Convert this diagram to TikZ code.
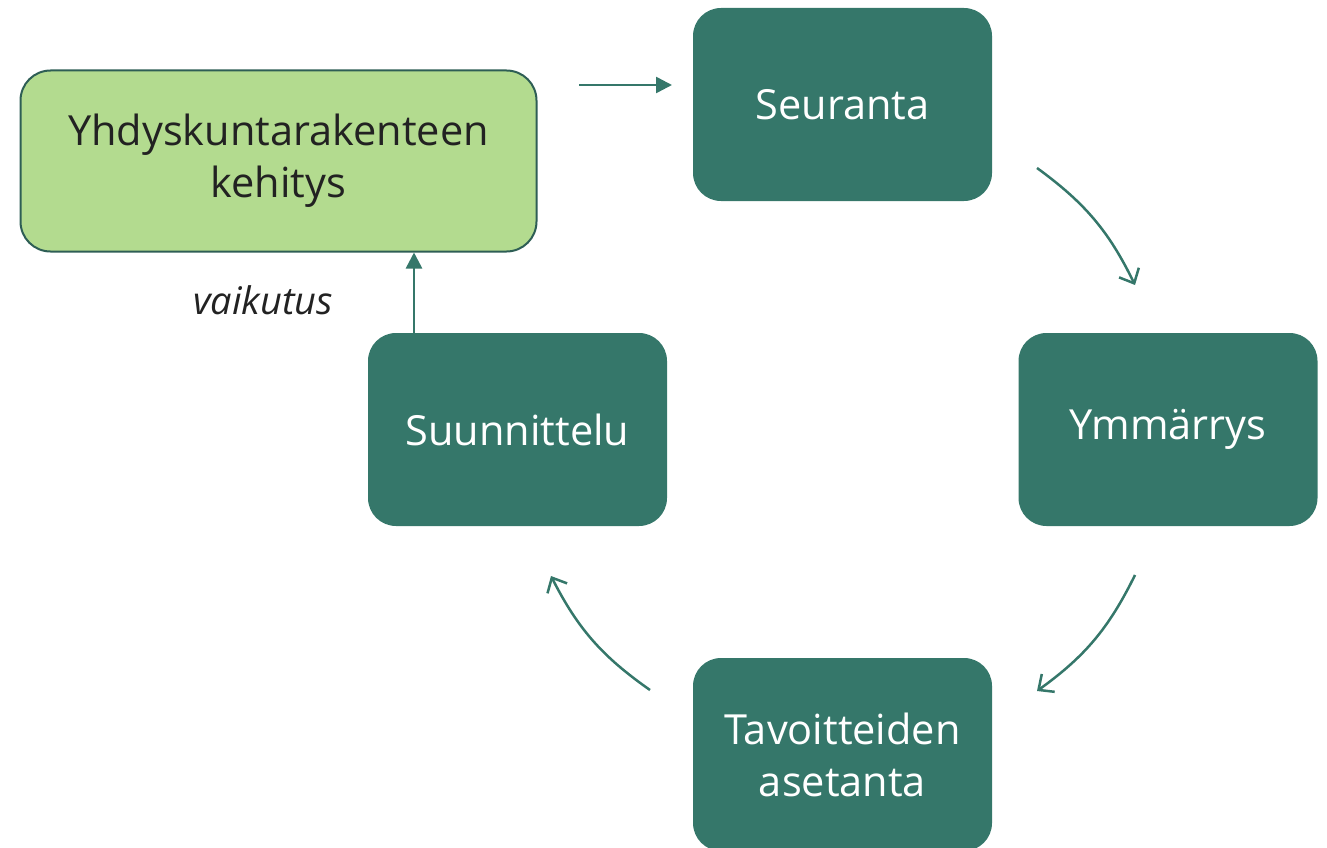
\documentclass[tikz,border=0pt]{standalone}
\usepackage{fontspec}
\setmainfont{Open Sans}
\usetikzlibrary{arrows.meta}
\definecolor{dkgreen}{HTML}{35776A}
\definecolor{ltgreen}{HTML}{B3DB8F}
\definecolor{ltborder}{HTML}{2E5E55}
\definecolor{txtdark}{HTML}{222222}
\tikzset{
  stagebox/.style={fill=dkgreen, draw=none, rounded corners=28pt, minimum width=299pt, minimum height=193pt, text=white, font=\fontsize{41.5}{52}\selectfont, align=center, inner sep=0pt},
  resultbox/.style={fill=ltgreen, draw=ltborder, line width=2pt, rounded corners=30pt, minimum width=516pt, minimum height=181pt, text=txtdark, font=\fontsize{41.5}{52}\selectfont, align=center, inner sep=0pt},
  flatarrow/.style={draw=dkgreen, line width=2.5pt, -{Triangle[length=16pt,width=16pt]}},
  curvearrow/.style={draw=dkgreen, line width=2.5pt, -{Straight Barb[length=12pt,width=22pt,line width=2.5pt]}}
}
\begin{document}
\begin{tikzpicture}[x=1pt,y=-1pt]
\useasboundingbox (0,0) rectangle (1327,848);
\node[resultbox] (res) at (278.5,161) {Yhdyskuntarakenteen\\kehitys};
\node[stagebox] (seu) at (842.5,104.5) {Seuranta};
\node[stagebox] (ymm) at (1168,429.5) {Ymmärrys};
\node[stagebox] (suu) at (517.5,429.5) {Suunnittelu};
\node[stagebox] (tav) at (842.5,754.5) {Tavoitteiden\\asetanta};
\node[font=\fontsize{38}{44}\selectfont\itshape, text=txtdark] (vai) at (263,300) {vaikutus};
\coordinate (a1s) at (579,85);
\coordinate (a1e) at (672,85);
\draw[flatarrow] (a1s) -- (a1e);
\coordinate (a2s) at (1037,168);
\coordinate (a2e) at (1135,285);
\draw[curvearrow] (a2s) to[bend left=14] (a2e);
\coordinate (a3s) at (1135,575);
\coordinate (a3e) at (1037,691);
\draw[curvearrow] (a3s) to[bend left=14] (a3e);
\coordinate (a4s) at (650,690);
\coordinate (a4e) at (551,576);
\draw[curvearrow] (a4s) to[bend left=14] (a4e);
\draw[flatarrow] (suu.north -| 414,0) -- (res.south -| 414,0);
\end{tikzpicture}
\end{document}
